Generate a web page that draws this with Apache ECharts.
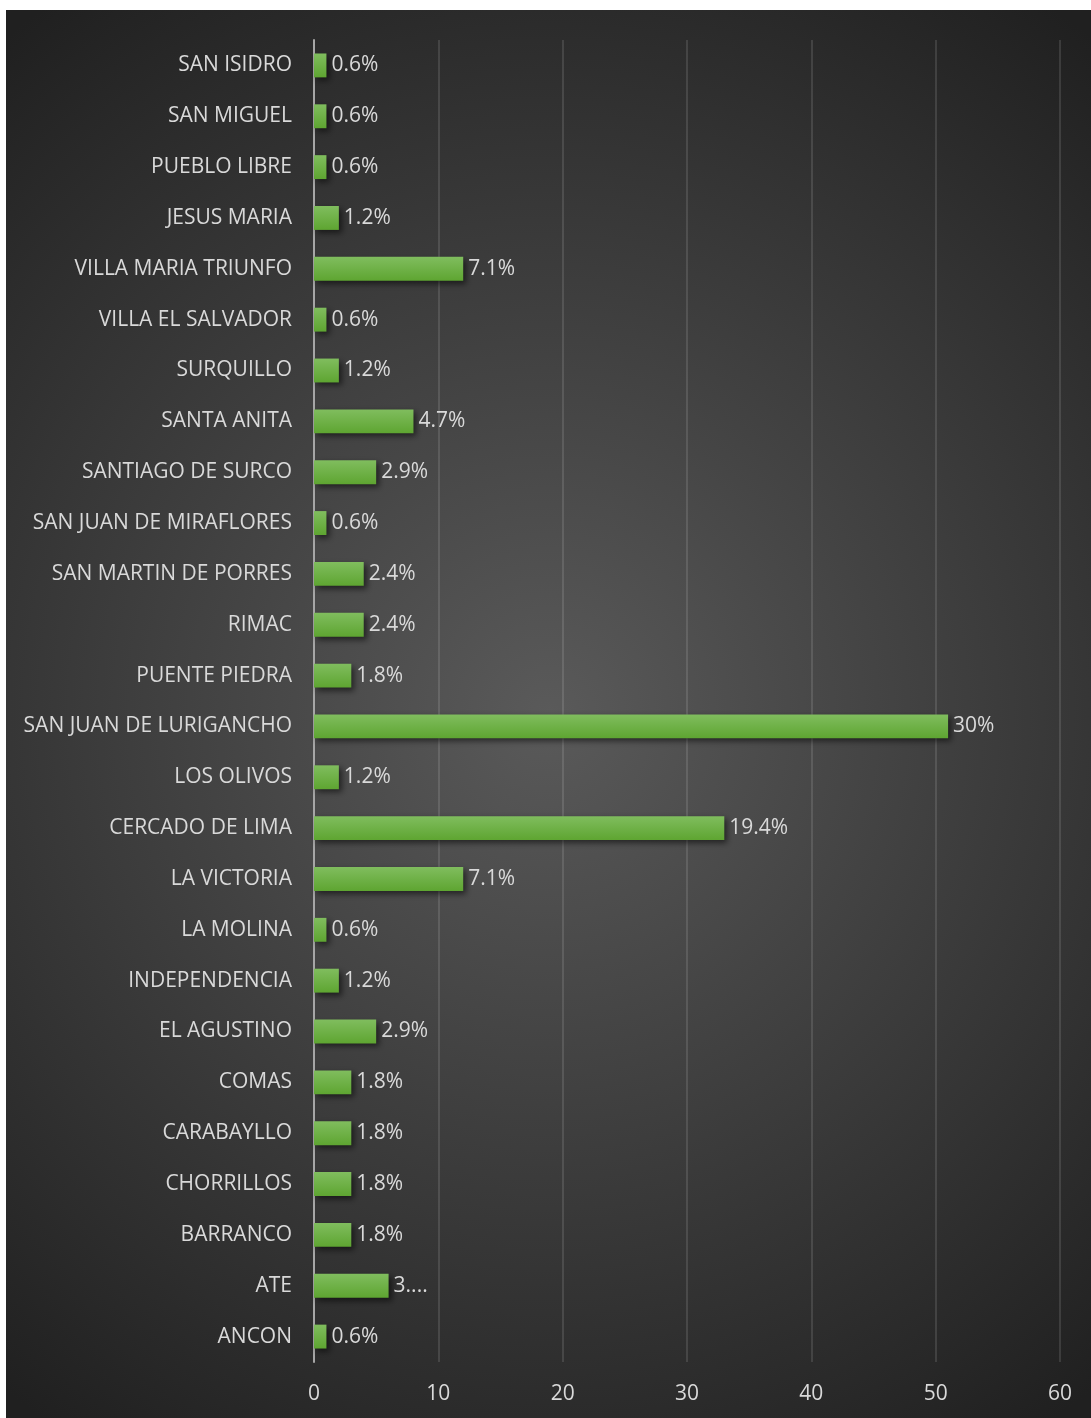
<!DOCTYPE html>
<html>
<head>
<meta charset="utf-8">
<script src="https://cdn.jsdelivr.net/npm/echarts@6/dist/echarts.min.js"></script>
<style>
  html, body { margin: 0; padding: 0; background: #ffffff; }
  #chart { position: absolute; left: 6px; top: 10px; width: 1085px; height: 1408px; }
</style>
</head>
<body>
<div id="chart"></div>
<script>
// Districts, top to bottom
const districts = [
  'SAN ISIDRO', 'SAN MIGUEL', 'PUEBLO LIBRE', 'JESUS MARIA', 'VILLA MARIA TRIUNFO',
  'VILLA EL SALVADOR', 'SURQUILLO', 'SANTA ANITA', 'SANTIAGO DE SURCO',
  'SAN JUAN DE MIRAFLORES', 'SAN MARTIN DE PORRES', 'RIMAC', 'PUENTE PIEDRA',
  'SAN JUAN DE LURIGANCHO', 'LOS OLIVOS', 'CERCADO DE LIMA', 'LA VICTORIA',
  'LA MOLINA', 'INDEPENDENCIA', 'EL AGUSTINO', 'COMAS', 'CARABAYLLO',
  'CHORRILLOS', 'BARRANCO', 'ATE', 'ANCON'
];

// Number of cases per district
const counts = [
  1, 1, 1, 2, 12,
  1, 2, 8, 5,
  1, 4, 4, 3,
  51, 2, 33, 12,
  1, 2, 5, 3, 3,
  3, 3, 6, 1
];

// Share labels shown next to each bar
const shareLabels = [
  '0.6%', '0.6%', '0.6%', '1.2%', '7.1%',
  '0.6%', '1.2%', '4.7%', '2.9%',
  '0.6%', '2.4%', '2.4%', '1.8%',
  '30%', '1.2%', '19.4%', '7.1%',
  '0.6%', '1.2%', '2.9%', '1.8%', '1.8%',
  '1.8%', '1.8%', '3....', '0.6%'
];

// Value axis ticks
const axisMin = 0;
const axisMax = 60;
const axisStep = 10;

const chart = echarts.init(document.getElementById('chart'));
const textFont = '"Open Sans", "Noto Sans", sans-serif';

chart.setOption({
  backgroundColor: {
    type: 'radial', x: 0.5, y: 0.5, r: 0.8,
    colorStops: [
      { offset: 0, color: '#5a5a5a' },
      { offset: 1, color: '#202020' }
    ]
  },
  animation: false,
  grid: { left: 308, right: 31, top: 30, bottom: 56, containLabel: false },
  xAxis: {
    type: 'value',
    min: axisMin, max: axisMax, interval: axisStep,
    axisLine: { show: false },
    axisTick: { show: false },
    splitLine: { show: true, lineStyle: { color: 'rgba(255,255,255,0.16)', width: 1.5 } },
    axisLabel: { color: '#d9d9d9', fontSize: 21, fontFamily: textFont, margin: 22 }
  },
  yAxis: {
    type: 'category',
    data: districts,
    inverse: true,
    axisLine: { show: true, lineStyle: { color: '#a6a6a6', width: 2 } },
    axisTick: { show: false },
    axisLabel: { color: '#d9d9d9', fontSize: 21, fontFamily: textFont, margin: 22, padding: [0, 0, 4, 0] }
  },
  series: [{
    type: 'bar',
    data: counts,
    barCategoryGap: '53%',
    itemStyle: {
      color: {
        type: 'linear', x: 0, y: 0, x2: 0, y2: 1,
        colorStops: [
          { offset: 0, color: '#80bd5e' },
          { offset: 1, color: '#5ea531' }
        ]
      },
      shadowColor: 'rgba(0,0,0,0.55)',
      shadowBlur: 6,
      shadowOffsetX: 3,
      shadowOffsetY: 3
    },
    label: {
      show: true,
      position: 'right',
      distance: 5,
      color: '#d9d9d9',
      fontSize: 21,
      fontFamily: textFont,
      padding: [0, 0, 4, 0],
      formatter: p => shareLabels[p.dataIndex]
    }
  }]
});
</script>
</body>
</html>
